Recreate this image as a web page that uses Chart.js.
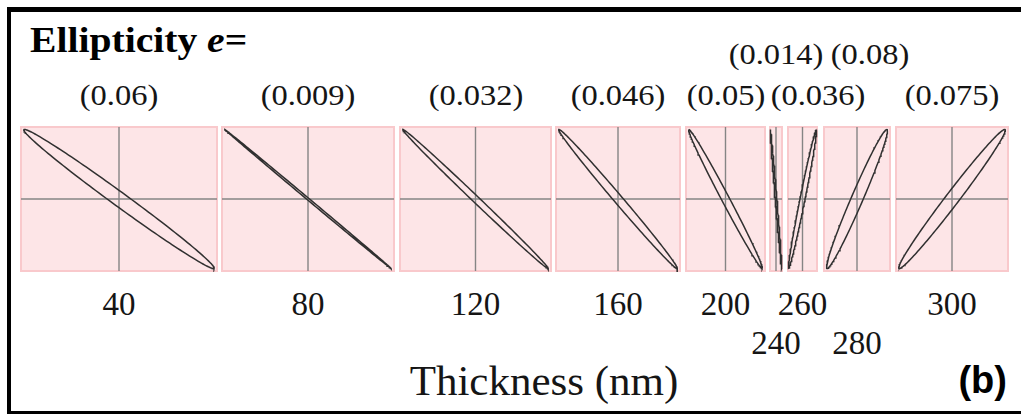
<!DOCTYPE html>
<html>
<head>
<meta charset="utf-8">
<script src="https://cdn.jsdelivr.net/npm/chart.js@4/dist/chart.umd.min.js"></script>
<style>
body { margin:0; width:1021px; height:414px; overflow:hidden; background:#fff; position:relative; font-family:"Liberation Serif","Times New Roman",serif; color:#151515; }
#frame { position:absolute; left:7px; top:7px; width:1040px; height:399px; border:4px solid #000; border-top-width:5px; border-right:none; }
.box { position:absolute; top:126px; height:146px; }
.lbl { position:absolute; white-space:nowrap; line-height:1; }
.eLbl { font-size:29px; transform:translateX(-50%) scaleX(1.12); }
.tLbl { font-size:33px; transform:translateX(-50%); }
</style>
</head>
<body>
<div id="frame"></div>
<div class="lbl" style="left:30px;top:22px;font-size:36px;font-weight:bold;color:#000;transform-origin:left;transform:scaleX(1.1)">Ellipticity <i>e</i>=</div>
<div class="lbl" style="left:544px;top:359px;font-size:43px;transform:translateX(-50%)">Thickness (nm)</div>
<div class="lbl" style="right:14px;top:361px;font-size:38px;font-weight:bold;color:#000;font-family:'Liberation Sans',Arial,sans-serif">(b)</div>
<div id="plots"></div>
<script>
// data
var thickness   = [40, 80, 120, 160, 200, 240, 260, 280, 300];
var ellipticity = [0.06, 0.009, 0.032, 0.046, 0.05, 0.014, 0.036, 0.08, 0.075];
var tilt        = [-1, -1, -1, -1, -1, -1, 1, 1, 1]; // -1 = falling, 1 = rising

// layout (pixels)
var boxLeft  = [20, 221, 399, 555, 685, 769, 787, 823, 895];
var boxWidth = [198, 174, 153, 126, 81, 14, 31, 68, 114];
var boxHeight = 146;
var eRow  = [0, 0, 0, 0, 0, 1, 0, 1, 0];   // 1 = upper row of ellipticity labels
var eShift = [0, 0, 0, 0, 0, 0, 15, 13, 0];
var tRow  = [0, 0, 0, 0, 0, 1, 0, 1, 0];

var boxPlugin = {
    id: 'boxBg',
    beforeDatasetsDraw: function(chart) {
        var c = chart.ctx, a = chart.chartArea;
        var x0 = chart.scales.x.getPixelForValue(0);
        var y0 = chart.scales.y.getPixelForValue(0);
        c.save();
        c.fillStyle = '#fde5e7';
        c.fillRect(a.left, a.top, a.right - a.left, a.bottom - a.top);
        c.strokeStyle = '#f9c9cc';
        c.lineWidth = 2;
        c.strokeRect(a.left + 1, a.top + 1, a.right - a.left - 2, a.bottom - a.top - 2);
        c.strokeStyle = '#858585';
        c.lineWidth = 1.4;
        c.beginPath();
        c.moveTo(x0, a.top + 1); c.lineTo(x0, a.bottom - 1);
        c.moveTo(a.left + 1, y0); c.lineTo(a.right - 1, y0);
        c.stroke();
        c.restore();
    }
};

function ellipsePoints(i) {
    // polarization ellipse inscribed in its amplitude box
    var ratio = boxHeight / boxWidth[i];
    var s = Math.sin(2 * Math.atan(ellipticity[i])) / Math.sin(2 * Math.atan(ratio));
    var d = Math.asin(Math.min(1, s));
    var pts = [];
    for (var k = 0; k <= 180; k++) {
        var t = k / 180 * 2 * Math.PI;
        pts.push({x: Math.cos(t), y: tilt[i] * Math.cos(t - d)});
    }
    return pts;
}

var plots = document.getElementById('plots');
thickness.forEach(function(th, i) {
    var div = document.createElement('div');
    div.className = 'box';
    div.style.left = boxLeft[i] + 'px';
    div.style.width = boxWidth[i] + 'px';
    var cv = document.createElement('canvas');
    div.appendChild(cv);
    plots.appendChild(div);

    var xPad = (boxWidth[i] > 40 ? 8 : 3) / boxWidth[i];
    new Chart(cv, {
        type: 'scatter',
        data: {
            datasets: [{
                data: ellipsePoints(i),
                showLine: true,
                borderColor: '#303030',
                borderWidth: 1.5,
                pointRadius: 0,
                tension: 0
            }]
        },
        options: {
            animation: false,
            responsive: true,
            maintainAspectRatio: false,
            layout: { padding: 0 },
            events: [],
            plugins: { legend: { display: false }, tooltip: { enabled: false } },
            scales: {
                x: { type: 'linear', display: false, min: -1 - xPad, max: 1 + xPad },
                y: { type: 'linear', display: false, min: -1.05, max: 1.05 }
            }
        },
        plugins: [boxPlugin]
    });

    var cx = boxLeft[i] + boxWidth[i] / 2;
    var e = document.createElement('div');
    e.className = 'lbl eLbl';
    e.textContent = '(' + ellipticity[i] + ')';
    e.style.left = (cx + eShift[i]) + 'px';
    e.style.top = (eRow[i] ? 40 : 81) + 'px';
    document.body.appendChild(e);

    var t = document.createElement('div');
    t.className = 'lbl tLbl';
    t.textContent = th;
    t.style.left = cx + 'px';
    t.style.top = (tRow[i] ? 327 : 288) + 'px';
    document.body.appendChild(t);
});
</script>
</body>
</html>
